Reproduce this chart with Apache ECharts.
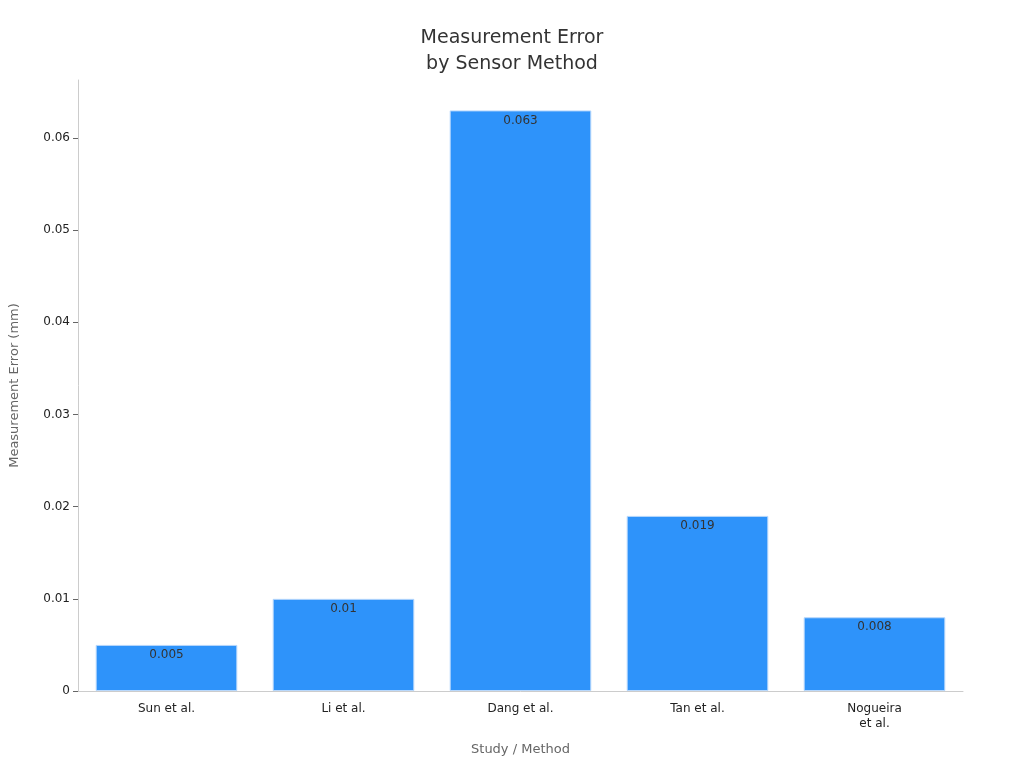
<!DOCTYPE html>
<html><head><meta charset="utf-8">
<script src="https://cdn.jsdelivr.net/npm/echarts@6/dist/echarts.min.js"></script>
<style>html,body{margin:0;padding:0;background:#fff}#c{width:1024px;height:768px}</style>
</head><body><div id="c"></div>
<script>
const categories = ["Sun et al.", "Li et al.", "Dang et al.", "Tan et al.", "Nogueira\net al."];
const errors = [0.005, 0.01, 0.063, 0.019, 0.008];
const chart = echarts.init(document.getElementById('c'));
chart.setOption({
  animation: false,
  textStyle: { fontFamily: 'DejaVu Sans' },
  title: { text: 'Measurement Error\nby Sensor Method', left: 'center', top: 20,
    textStyle: { fontSize: 19, fontWeight: 'normal', color: '#333', lineHeight: 26, fontFamily: 'DejaVu Sans' } },
  grid: { left: 72, right: 61, top: 80, bottom: 77 },
  xAxis: { type: 'category', data: categories, name: 'Study / Method', nameLocation: 'middle', nameGap: 52,
    nameTextStyle: { color: '#666', fontSize: 13 },
    axisLine: { lineStyle: { color: '#ccc' } }, axisTick: { show: false },
    axisLabel: { color: '#222', fontSize: 12, margin: 10, lineHeight: 15 } },
  yAxis: { type: 'value', min: 0, max: 0.0663, interval: 0.01, name: 'Measurement Error (mm)', nameLocation: 'middle', nameGap: 57,
    nameTextStyle: { color: '#666', fontSize: 13 },
    axisLine: { show: true, lineStyle: { color: '#ccc' } }, axisTick: { show: true, lineStyle: { color: '#666' } },
    axisLabel: { color: '#222', fontSize: 12, showMaxLabel: false }, splitLine: { show: false } },
  series: [{ type: 'bar', data: errors, barCategoryGap: '20%',
    itemStyle: { color: '#2E93FA', borderColor: '#b8d8fc', borderWidth: 1 },
    label: { show: true, position: 'insideTop', color: '#333', fontSize: 12, offset: [0, -1] } }]
});
</script></body></html>
